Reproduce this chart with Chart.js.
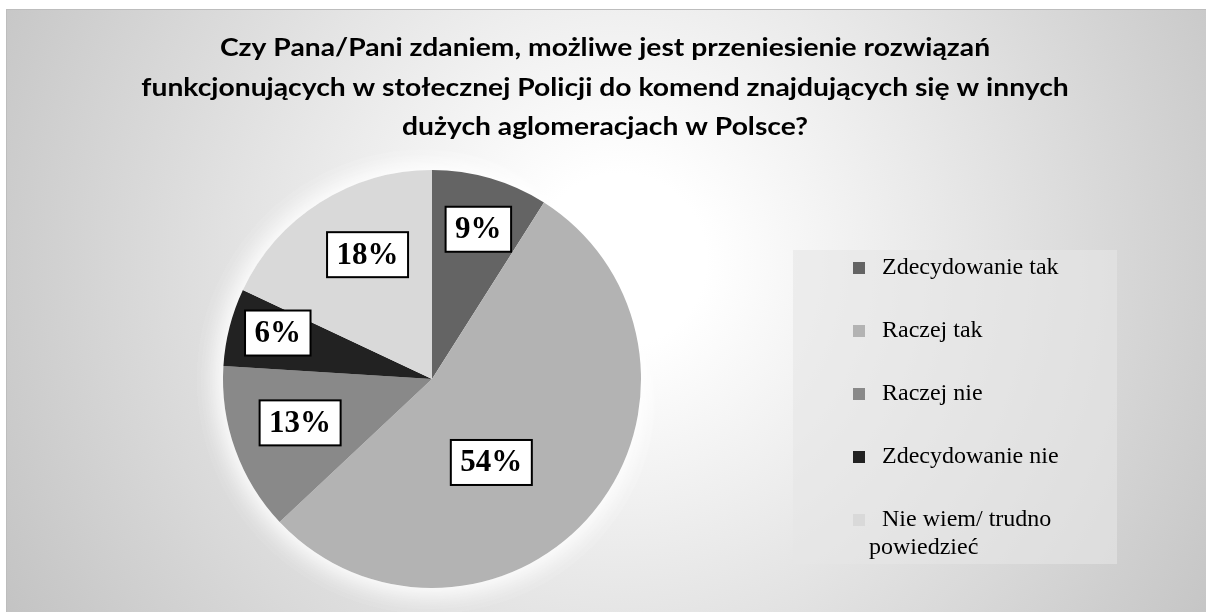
<!DOCTYPE html>
<html>
<head>
<meta charset="utf-8">
<script src="https://cdn.jsdelivr.net/npm/chart.js@4.4.1/dist/chart.umd.min.js"></script>
<style>
html, body { margin: 0; padding: 0; background: #fff; }
</style>
</head>
<body>
<canvas id="pie_chart" width="1206" height="612"></canvas>
<script>
(function(){
const titleLines = [
    'Czy Pana/Pani zdaniem, możliwe jest przeniesienie rozwiązań',
    'funkcjonujących w stołecznej Policji do komend znajdujących się w innych',
    'dużych aglomeracjach w Polsce?'
];
const categories = ['Zdecydowanie tak', 'Raczej tak', 'Raczej nie', 'Zdecydowanie nie', 'Nie wiem/ trudno powiedzieć'];
const shares = [9, 54, 13, 6, 18];
const sliceColors = ['#646464', '#b3b3b3', '#898989', '#222222', '#d9d9d9'];

// where each % box sits: fraction of the radius, and a small turn (degrees) off the slice middle
const labelRadius = [0.75, 0.49, 0.665, 0.77, 0.67];
const labelTurn = [1, 15, 1.4, 2.2, 5];

const background = {
    id: 'background',
    beforeDraw(chart) {
        const ctx = chart.ctx;
        ctx.save();
        ctx.fillStyle = '#fff';
        ctx.fillRect(0, 0, chart.width, chart.height);
        const g = ctx.createRadialGradient(620, 260, 0, 620, 260, 720);
        g.addColorStop(0, '#ffffff');
        g.addColorStop(0.12, '#ffffff');
        g.addColorStop(1, '#c2c2c2');
        ctx.fillStyle = g;
        ctx.fillRect(6, 9, chart.width - 6, chart.height - 9);
        ctx.fillStyle = '#bdbdbd';
        ctx.fillRect(6, 9, chart.width - 6, 1);
        ctx.fillRect(6, 9, 1, chart.height - 9);
        ctx.restore();
    },
    beforeDatasetsDraw(chart) {
        // soft white glow round the pie
        const arc = chart.getDatasetMeta(0).data[0];
        if (!arc) return;
        const {x, y, outerRadius} = arc.getProps(['x', 'y', 'outerRadius'], true);
        const ctx = chart.ctx;
        ctx.save();
        ctx.shadowColor = 'rgba(255,255,255,1)';
        ctx.shadowBlur = 30;
        ctx.fillStyle = '#ffffff';
        ctx.beginPath();
        ctx.arc(x, y, outerRadius, 0, Math.PI * 2);
        ctx.fill();
        ctx.fill();
        ctx.restore();
    }
};

const titleAndLegend = {
    id: 'titleAndLegend',
    afterDraw(chart) {
        const ctx = chart.ctx;
        ctx.save();
        // title, stretched a little to the width of the original narrow font
        ctx.fillStyle = '#000';
        ctx.font = 'bold 25px Lato';
        ctx.textAlign = 'center';
        ctx.textBaseline = 'middle';
        titleLines.forEach((line, i) => {
            ctx.save();
            ctx.translate(605, 48 + i * 39.5);
            ctx.scale(1.13, 1);
            ctx.fillText(line, 0, 0);
            ctx.restore();
        });

        // legend
        ctx.fillStyle = 'rgba(230,230,230,0.6)';
        ctx.fillRect(793, 250, 324, 314);
        ctx.font = '24px "Liberation Serif"';
        ctx.textAlign = 'left';
        const bg = chart.data.datasets[0].backgroundColor;
        chart.data.labels.forEach((label, i) => {
            const cy = 268 + i * 63;
            ctx.fillStyle = bg[i];
            ctx.fillRect(853, cy - 6, 12, 12);
            ctx.fillStyle = '#000';
            const words = label.split(' ');
            const lines = [];
            let cur = '';
            for (const w of words) {
                const t = cur ? cur + ' ' + w : w;
                if (cur && ctx.measureText(t).width > 200) {
                    lines.push(cur);
                    cur = w;
                } else {
                    cur = t;
                }
            }
            lines.push(cur);
            lines.forEach((ln, j) => {
                ctx.fillText(ln, j === 0 ? 882 : 869, cy + j * 28);
            });
        });
        ctx.restore();
    }
};

const valueBoxes = {
    id: 'valueBoxes',
    afterDatasetsDraw(chart) {
        const ctx = chart.ctx;
        const meta = chart.getDatasetMeta(0);
        const values = chart.data.datasets[0].data;
        ctx.save();
        ctx.font = 'bold 31px "Liberation Serif"';
        ctx.textAlign = 'center';
        ctx.textBaseline = 'middle';
        meta.data.forEach((arc, i) => {
            const p = arc.getProps(['x', 'y', 'startAngle', 'endAngle', 'outerRadius'], true);
            const a = (p.startAngle + p.endAngle) / 2 + labelTurn[i] * Math.PI / 180;
            const cx = p.x + Math.cos(a) * p.outerRadius * labelRadius[i];
            const cy = p.y + Math.sin(a) * p.outerRadius * labelRadius[i];
            const text = values[i] + '%';
            const w = ctx.measureText(text).width + 19;
            const h = 45;
            ctx.fillStyle = '#fff';
            ctx.fillRect(cx - w / 2, cy - h / 2, w, h);
            ctx.lineWidth = 2;
            ctx.strokeStyle = '#000';
            ctx.strokeRect(cx - w / 2, cy - h / 2, w, h);
            ctx.fillStyle = '#000';
            ctx.fillText(text, cx, cy + 1);
        });
        ctx.restore();
    }
};

new Chart(document.getElementById('pie_chart'), {
    type: 'pie',
    data: {
        labels: categories,
        datasets: [{
            data: shares,
            backgroundColor: sliceColors,
            borderWidth: 0
        }]
    },
    options: {
        responsive: false,
        animation: false,
        layout: {
            padding: { left: 223, right: 565, top: 170, bottom: 24 }
        },
        plugins: {
            legend: { display: false },
            tooltip: { enabled: false }
        }
    },
    plugins: [background, valueBoxes, titleAndLegend]
});
}());
</script>
</body>
</html>
